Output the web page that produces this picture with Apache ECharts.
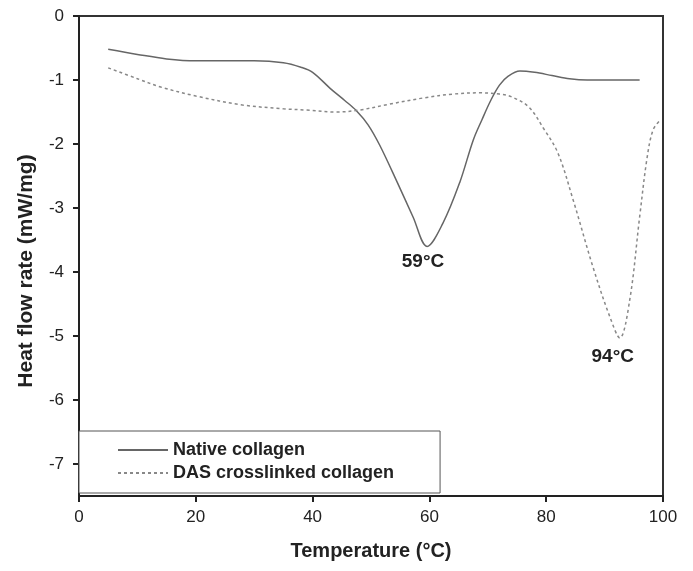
<!DOCTYPE html>
<html>
<head>
<meta charset="utf-8">
<script src="https://cdn.jsdelivr.net/npm/echarts@6/dist/echarts.min.js"></script>
<style>
html,body{margin:0;padding:0;background:#fff;}
#main{width:693px;height:571px;}
</style>
</head>
<body>
<div id="main"></div>
<script>
// Native collagen (solid)
var nativeT = [5, 10, 15, 20, 30, 35, 38, 40, 43, 45.5, 47.5, 49.5, 51.5, 54.5, 57.2, 59.6, 62.3, 65.2, 67.5, 69, 70.5, 72, 73.5, 75.5, 78, 81, 84, 87, 96];
var nativeV = [-0.52, -0.60, -0.67, -0.70, -0.70, -0.73, -0.80, -0.88, -1.13, -1.32, -1.48, -1.70, -2.02, -2.60, -3.14, -3.60, -3.24, -2.60, -1.94, -1.62, -1.32, -1.08, -0.94, -0.86, -0.88, -0.93, -0.98, -1.00, -1.00];
// DAS crosslinked collagen (dotted)
var dasT = [5, 10, 14, 20, 28, 35, 39, 44, 48, 53, 59, 64, 68.7, 72, 74, 77, 79.5, 82, 84.6, 88, 90.9, 92.6, 94.3, 96, 97.3, 98.3, 99.5];
var dasV = [-0.81, -0.98, -1.11, -1.25, -1.39, -1.45, -1.47, -1.50, -1.47, -1.38, -1.28, -1.22, -1.20, -1.22, -1.26, -1.42, -1.75, -2.14, -2.87, -3.92, -4.70, -5.03, -4.44, -3.14, -2.20, -1.78, -1.63];
var yTicks = [0, -1, -2, -3, -4, -5, -6, -7];
var peakLabels = [
    {text: '59°C', t: 58.9, v: -3.84},
    {text: '94°C', t: 91.4, v: -5.33}
];

function pairs(xs, ys){
    var out = [];
    for (var i = 0; i < xs.length; i++) out.push([xs[i], ys[i]]);
    return out;
}

var FONT = '"Liberation Sans", Arial, sans-serif';
var myChart = echarts.init(document.getElementById('main'));

var peakLabelStyle = {
    show: true, position: 'inside', fontFamily: FONT, fontSize: 19, fontWeight: 'bold', color: '#222',
    formatter: function(p){ return p.name; }
};

var option = {
    animation: false,
    backgroundColor: '#fff',
    textStyle: {fontFamily: FONT},
    grid: {
        left: 79, right: 30, top: 16, bottom: 75,
        show: true, borderColor: '#333', borderWidth: 2
    },
    legend: {
        orient: 'vertical',
        left: 79, top: 431,
        padding: [10, 46, 11, 38],
        itemGap: 5,
        itemWidth: 50,
        itemHeight: 14,
        borderColor: '#555',
        borderWidth: 1,
        backgroundColor: '#fff',
        itemStyle: {opacity: 0},
        textStyle: {fontFamily: FONT, fontSize: 18, fontWeight: 'bold', color: '#222'},
        data: ['Native collagen', 'DAS crosslinked collagen']
    },
    xAxis: {
        type: 'value',
        min: 0, max: 100, interval: 20,
        name: 'Temperature (°C)',
        nameLocation: 'middle',
        nameGap: 45,
        nameTextStyle: {fontFamily: FONT, fontSize: 20, fontWeight: 'bold', color: '#222'},
        axisLine: {onZero: false, lineStyle: {color: '#222', width: 2}},
        axisTick: {inside: false, length: 6, lineStyle: {color: '#222', width: 2}},
        axisLabel: {margin: 13, fontSize: 17, color: '#222', fontFamily: FONT},
        splitLine: {show: false}
    },
    yAxis: {
        type: 'value',
        min: -7.5, max: 0,
        name: 'Heat flow rate (mW/mg)',
        nameLocation: 'middle',
        nameGap: 42,
        nameTextStyle: {fontFamily: FONT, fontSize: 21, fontWeight: 'bold', color: '#222', padding: [0, 30, 0, 0]},
        axisLine: {onZero: false, lineStyle: {color: '#222', width: 2}},
        axisTick: {length: 6, lineStyle: {color: '#222', width: 2}, customValues: yTicks},
        axisLabel: {margin: 15, fontSize: 17, color: '#222', fontFamily: FONT, customValues: yTicks},
        splitLine: {show: false}
    },
    series: [
        {
            name: 'Native collagen',
            type: 'line',
            smooth: 0.35,
            symbol: 'none',
            data: pairs(nativeT, nativeV),
            lineStyle: {color: '#666', width: 1.5},
            itemStyle: {color: '#666'},
            markPoint: {
                symbol: 'circle', symbolSize: 0,
                label: peakLabelStyle,
                data: [{name: peakLabels[0].text, coord: [peakLabels[0].t, peakLabels[0].v]}]
            }
        },
        {
            name: 'DAS crosslinked collagen',
            type: 'line',
            smooth: 0.35,
            symbol: 'none',
            data: pairs(dasT, dasV),
            lineStyle: {color: '#888', width: 1.5, type: [3, 3]},
            itemStyle: {color: '#888'},
            markPoint: {
                symbol: 'circle', symbolSize: 0,
                label: peakLabelStyle,
                data: [{name: peakLabels[1].text, coord: [peakLabels[1].t, peakLabels[1].v]}]
            }
        }
    ]
};
myChart.setOption(option);
</script>
</body>
</html>
